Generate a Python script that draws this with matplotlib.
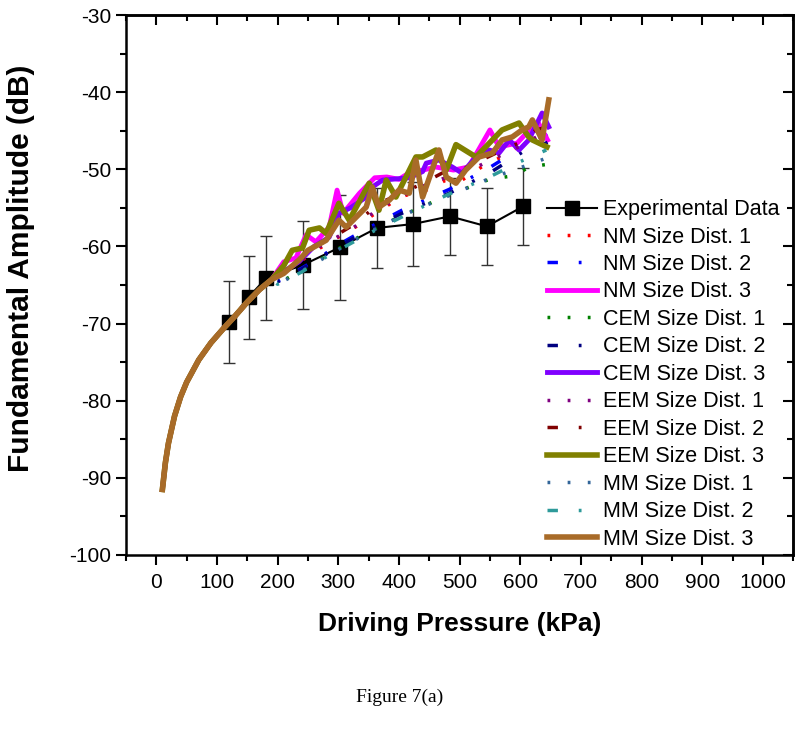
import numpy as np
import matplotlib
matplotlib.use("Agg")
import matplotlib.pyplot as plt
from matplotlib.ticker import MultipleLocator

plt.rcParams['font.family'] = ['Liberation Sans', 'DejaVu Sans']
plt.rcParams['axes.unicode_minus'] = False

# experimental data (kPa, dB, std)
p_exp = [120, 152, 181, 242, 303, 364, 423, 484, 545, 605]
a_exp = [-69.8, -66.6, -64.1, -62.4, -60.1, -57.6, -57.1, -56.1, -57.4, -54.8]
e_exp = [5.3, 5.4, 5.4, 5.7, 6.8, 5.2, 5.5, 5.0, 5.0, 5.0]

# common low-pressure part of all model curves
p_low = [10, 15, 20, 30, 40, 50, 70, 90, 110, 130, 150, 170, 190]
a_low = [-91.5, -88.0, -85.5, -82.0, -79.5, -77.6, -74.7, -72.5, -70.7, -69.0, -67.2, -65.6, -64.3]

# NM
p_nm1 = [210, 240, 270, 300, 330, 365, 405, 445, 475, 504, 540, 580, 626, 645]
a_nm1 = [-63.2, -61.8, -60.2, -58.8, -57.4, -55.5, -53.5, -52.7, -51.5, -51.4, -49.5, -48.0, -45.2, -44.8]
p_nm2 = [200, 240, 270, 300, 340, 405, 483, 549, 600, 645]
a_nm2 = [-64.5, -62.8, -61.4, -59.8, -58.0, -55.3, -52.6, -49.8, -47.3, -45.5]
p_nm3 = [210, 230, 247, 263, 285, 298, 308, 335, 360, 380, 400, 420, 440, 460, 490, 515, 550, 565, 595, 615, 630, 645]
a_nm3 = [-62.0, -61.5, -58.5, -59.4, -57.5, -52.7, -55.7, -53.1, -51.1, -51.0, -51.3, -50.3,
         -50.1, -49.7, -50.1, -49.7, -44.9, -47.1, -46.6, -44.9, -44.0, -46.2]

# CEM
p_cem1 = [200, 240, 270, 300, 340, 405, 480, 549, 592, 614, 650]
a_cem1 = [-64.8, -63.1, -61.7, -60.3, -58.5, -56.0, -53.4, -51.3, -50.8, -49.7, -49.3]
p_cem2 = [200, 240, 270, 300, 340, 405, 483, 549, 603, 626, 645]
a_cem2 = [-64.6, -62.9, -61.5, -60.0, -58.3, -55.7, -53.1, -50.5, -47.8, -47.2, -46.5]
p_cem3 = [215, 235, 260, 285, 301, 320, 346, 356, 373, 417, 439, 445, 466, 488, 504, 527, 549, 565, 582, 598, 614, 636, 647]
a_cem3 = [-63.0, -62.0, -60.0, -58.8, -55.7, -55.0, -53.6, -52.3, -51.4, -51.1, -50.3, -49.2,
          -48.8, -49.7, -50.5, -48.4, -47.5, -47.9, -46.2, -47.5, -46.2, -42.7, -44.5]

# EEM
p_eem1 = [210, 240, 270, 300, 330, 365, 405, 445, 480, 520, 560, 600, 645]
a_eem1 = [-63.2, -61.7, -60.0, -58.7, -57.3, -55.2, -53.4, -52.0, -51.0, -50.0, -48.5, -47.0, -45.0]
p_eem2 = [210, 240, 268, 300, 329, 367, 405, 440, 471, 510, 560, 600, 626, 645]
a_eem2 = [-63.0, -61.5, -59.8, -58.4, -57.0, -54.4, -53.1, -51.8, -50.5, -49.8, -47.9, -46.5, -44.9, -44.5]
p_eem3 = [210, 224, 241, 252, 269, 280, 301, 318, 351, 367, 379, 395, 428, 439, 461, 478, 494, 527, 570, 598, 614, 620, 644]
a_eem3 = [-62.5, -60.5, -60.2, -57.9, -57.6, -58.3, -54.4, -56.6, -51.8, -55.3, -51.4, -53.6,
          -48.4, -48.4, -47.5, -50.1, -46.8, -48.4, -44.9, -44.0, -45.8, -46.2, -47.1]

# MM
p_mm1 = [200, 240, 270, 300, 340, 405, 480, 549, 600, 645]
a_mm1 = [-64.9, -63.2, -61.8, -60.4, -58.6, -56.0, -53.5, -51.2, -49.8, -48.5]
p_mm2 = [200, 240, 270, 300, 351, 417, 480, 549, 600, 643]
a_mm2 = [-64.9, -63.3, -61.8, -60.5, -58.3, -55.7, -53.3, -51.0, -49.0, -47.5]
p_mm3 = [210, 236, 250, 280, 301, 313, 346, 356, 367, 384, 400, 417, 428, 439, 466, 478, 494, 510,
         532, 554, 570, 587, 603, 614, 620, 636, 647]
a_mm3 = [-63.5, -61.7, -60.5, -59.2, -56.6, -57.5, -54.9, -52.3, -54.9, -54.0, -52.7, -53.1, -48.8,
         -53.6, -47.5, -51.0, -51.8, -50.1, -48.4, -47.9, -46.2, -45.8, -44.9, -44.5, -43.6, -46.2, -41.0]

dot = (0, (0.8, 5))
dashdot = (0, (3, 6, 0.8, 6))

series = [
    ("NM Size Dist. 1", p_nm1, a_nm1, '#FF0000', dot, 2.5),
    ("NM Size Dist. 2", p_nm2, a_nm2, '#0000FF', dashdot, 2.5),
    ("NM Size Dist. 3", p_nm3, a_nm3, '#FF00FF', '-', 3.5),
    ("CEM Size Dist. 1", p_cem1, a_cem1, '#008000', dot, 2.5),
    ("CEM Size Dist. 2", p_cem2, a_cem2, '#000080', dashdot, 2.5),
    ("CEM Size Dist. 3", p_cem3, a_cem3, '#8000FF', '-', 3.5),
    ("EEM Size Dist. 1", p_eem1, a_eem1, '#800080', dot, 2.5),
    ("EEM Size Dist. 2", p_eem2, a_eem2, '#800000', dashdot, 2.5),
    ("EEM Size Dist. 3", p_eem3, a_eem3, '#808000', '-', 4.0),
    ("MM Size Dist. 1", p_mm1, a_mm1, '#336699', dot, 2.5),
    ("MM Size Dist. 2", p_mm2, a_mm2, '#2E9A9A', dashdot, 2.5),
    ("MM Size Dist. 3", p_mm3, a_mm3, '#A86B28', '-', 4.0),
]

fig = plt.figure(figsize=(8, 7.4), dpi=100)
ax = fig.add_axes([0.1575, 0.25, 0.834, 0.7297])

ax.errorbar(p_exp, a_exp, yerr=e_exp, fmt='none', ecolor='#333333', elinewidth=1.0,
            capsize=4.5, capthick=1.0, zorder=2)
handles = []
h, = ax.plot(p_exp, a_exp, color='black', lw=1.5, marker='s', ms=9.5,
             label='Experimental Data', zorder=2)
handles.append(h)

for label, p, a, c, ls, lw in series:
    h, = ax.plot(p_low + p, a_low + a, color=c, linestyle=ls, lw=lw, label=label, zorder=3)
    handles.append(h)

ax.set_xlim(-50, 1050)
ax.set_ylim(-100, -30)
ax.xaxis.set_major_locator(MultipleLocator(100))
ax.xaxis.set_minor_locator(MultipleLocator(50))
ax.yaxis.set_major_locator(MultipleLocator(10))
ax.yaxis.set_minor_locator(MultipleLocator(5))
ax.tick_params(which='both', direction='out', width=1.5, labelsize=15, top=False, right=False)
ax.tick_params(axis='x', pad=6)
ax.tick_params(which='major', length=7)
ax.tick_params(which='minor', length=4)
for s in ax.spines.values():
    s.set_linewidth(1.8)

# mirrored inward ticks on top and right
top = ax.secondary_xaxis('top')
top.xaxis.set_major_locator(MultipleLocator(100))
top.xaxis.set_minor_locator(MultipleLocator(50))
top.tick_params(which='both', direction='in', width=1.5, labeltop=False)
top.tick_params(which='major', length=7)
top.tick_params(which='minor', length=4)
top.spines['top'].set_linewidth(1.8)
right = ax.secondary_yaxis('right')
right.yaxis.set_major_locator(MultipleLocator(10))
right.yaxis.set_minor_locator(MultipleLocator(5))
right.tick_params(which='both', direction='in', width=1.5, labelright=False)
right.tick_params(which='major', length=7)
right.tick_params(which='minor', length=4)
right.spines['right'].set_linewidth(1.8)

ax.set_xlabel('Driving Pressure (kPa)', fontsize=19, fontweight='bold', labelpad=14)
ax.set_ylabel('Fundamental Amplitude (dB)', fontsize=21.5, fontweight='bold')
ax.yaxis.set_label_coords(-0.136, 0.531)

ax.legend(handles=handles, loc='upper left', bbox_to_anchor=(0.684, 0.731),
          bbox_transform=fig.transFigure, frameon=False, fontsize=15.5,
          handlelength=2.3, handletextpad=0.3, labelspacing=0.3, borderpad=0, borderaxespad=0)

fig.text(0.5, 0.058, 'Figure 7(a)', ha='center', va='center', fontsize=14,
         family=['Liberation Serif', 'DejaVu Serif'])

fig.savefig('out.png', dpi=100)
